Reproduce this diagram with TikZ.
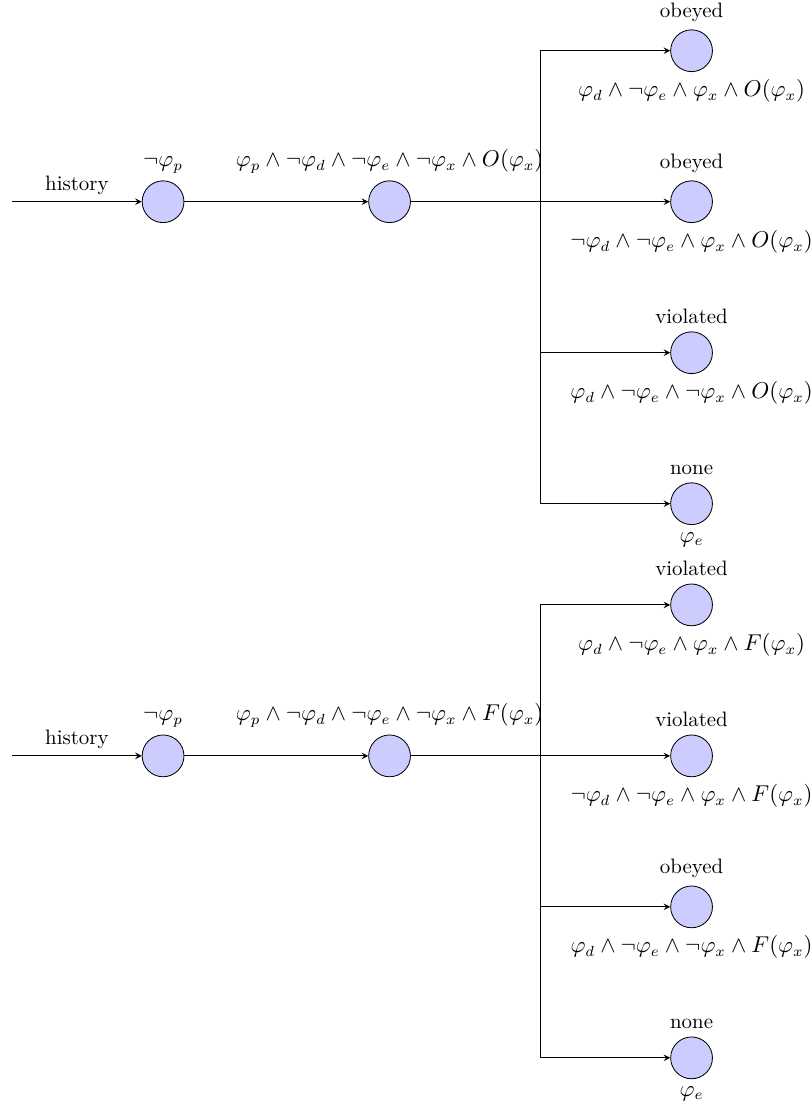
\documentclass[tikz,border=0pt]{standalone}
\usepackage{amssymb}
\usetikzlibrary{positioning}
\NewDocumentCommand{\prop}{m}{\varphi_{#1}}

\begin{document}
\begin{tikzpicture}[node distance={1in}, >=stealth, world/.style = {draw,
                        circle, fill=blue!20, minimum size=20pt},
                        formula/.style = {font=\fontsize{10.5}{13}\selectfont}]
        \useasboundingbox (-0.08in,1.336in) rectangle (5.29in,-5.969in);

        % obligation
        \coordinate (h1) at (0,0);
        \node[world] (p1) [right of=h1, label={[formula]above:{$\neg\prop{p}$}}] {};
        \node[world] (x1) [right of=p1, node distance=1.5in,
            label={[formula]above:{$\prop{p} \wedge \neg\prop{d} \wedge \neg\prop{e} \wedge \neg\prop{x} \wedge O(\prop{x})$}}] {};
        \coordinate[right of=x1] (b1);
        \node[world] (o1b) [right of=x1, node distance=2in, label=above:{obeyed},
            label={[formula]below:{$\neg\prop{d} \wedge \neg\prop{e} \wedge \prop{x} \wedge O(\prop{x})$}}] {};
        \node[world] (o1a) [above of=o1b, label=above:{obeyed},
            label={[formula]below:{$\prop{d} \wedge \neg\prop{e} \wedge \prop{x} \wedge O(\prop{x})$}}] {};
        \node[world] (o1c) [below of=o1b, label=above:{violated},
            label={[formula]below:{$\prop{d} \wedge \neg\prop{e} \wedge \neg\prop{x} \wedge O(\prop{x})$}}] {};
        \node[world] (o1d) [below of=o1c, label=above:{none},
            label={[formula]below:{$\prop{e}$}}] {};

        \draw[->] (h1) -- node[above] {history} (p1);
        \draw[->] (p1) -- (x1);
        \draw[->] (x1) -- (o1b);
        \draw[->] (b1) |- (o1a);
        \draw[->] (b1) |- (o1c);
        \draw[->] (b1) |- (o1d);

        % prohibition
        \coordinate (h2) at (0,-3.67in);
        \node[world] (p2) [right of=h2, label={[formula]above:{$\neg\prop{p}$}}] {};
        \node[world] (x2) [right of=p2, node distance=1.5in,
            label={[formula]above:{$\prop{p} \wedge \neg\prop{d} \wedge \neg\prop{e} \wedge \neg\prop{x} \wedge F(\prop{x})$}}] {};
        \coordinate[right of=x2] (b2);
        \node[world] (f2b) [right of=x2, node distance=2in, label=above:{violated},
            label={[formula]below:{$\neg\prop{d} \wedge \neg\prop{e} \wedge \prop{x} \wedge F(\prop{x})$}}] {};
        \node[world] (f2a) [above of=f2b, label=above:{violated},
            label={[formula]below:{$\prop{d} \wedge \neg\prop{e} \wedge \prop{x} \wedge F(\prop{x})$}}] {};
        \node[world] (f2c) [below of=f2b, label=above:{obeyed},
            label={[formula]below:{$\prop{d} \wedge \neg\prop{e} \wedge \neg\prop{x} \wedge F(\prop{x})$}}] {};
        \node[world] (f2d) [below of=f2c, label=above:{none},
            label={[formula]below:{$\prop{e}$}}] {};

        \draw[->] (h2) -- node[above] {history} (p2);
        \draw[->] (p2) -- (x2);
        \draw[->] (x2) -- (f2b);
        \draw[->] (b2) |- (f2a);
        \draw[->] (b2) |- (f2c);
        \draw[->] (b2) |- (f2d);
    \end{tikzpicture}
\end{document}
